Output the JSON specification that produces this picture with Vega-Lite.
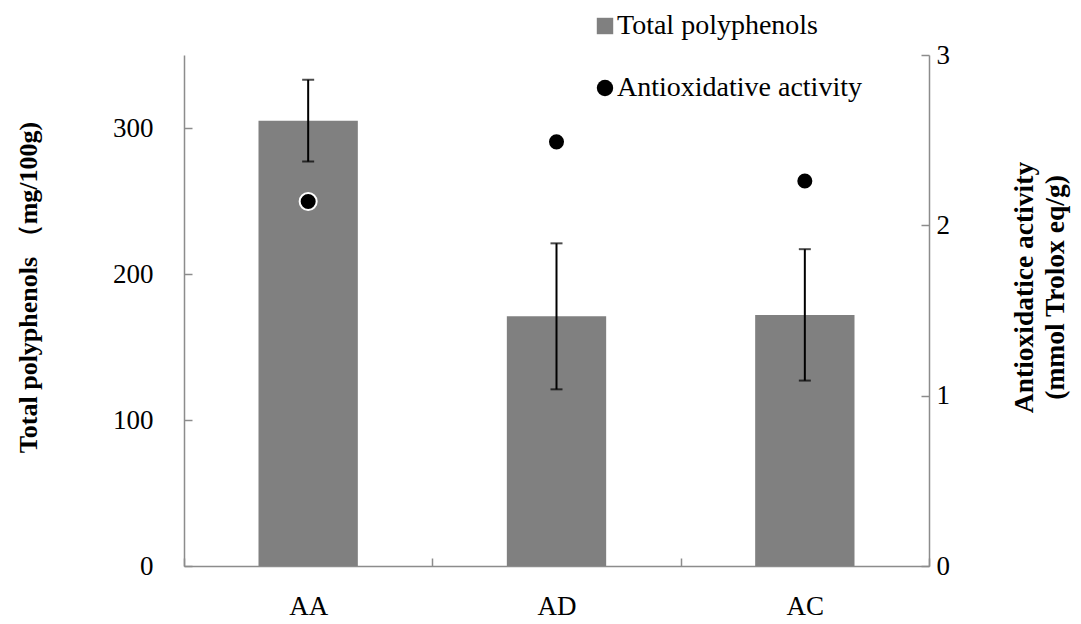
{
  "$schema": "https://vega.github.io/schema/vega-lite/v6.json",
  "width": 745,
  "height": 511,
  "autosize": "none",
  "padding": {"left": 184, "top": 55, "right": 152, "bottom": 58},
  "background": "white",
  "config": {
    "view": {"stroke": null},
    "font": "Liberation Serif",
    "axis": {
      "grid": false,
      "domainColor": "#8c8c8c",
      "domainWidth": 1.5,
      "tickColor": "#8c8c8c",
      "tickWidth": 1.5,
      "tickSize": -8,
      "labelFont": "Liberation Serif",
      "labelFontSize": 27,
      "labelColor": "black",
      "titleFont": "Liberation Serif",
      "titleFontSize": 26,
      "titleFontWeight": "bold",
      "titleColor": "black"
    },
    "legend": {
      "orient": "none",
      "legendX": 407,
      "legendY": -43,
      "title": null,
      "labelFont": "Liberation Serif",
      "labelFontSize": 28,
      "labelColor": "black",
      "labelLimit": 400,
      "symbolSize": 270,
      "symbolStrokeWidth": 0,
      "rowPadding": 34,
      "labelOffset": -2
    }
  },
  "data": {
    "values": [
      {"group": "AA", "polyphenols": 305, "lo": 277, "hi": 333, "activity": 2.14},
      {"group": "AD", "polyphenols": 171, "lo": 121, "hi": 221, "activity": 2.49},
      {"group": "AC", "polyphenols": 172, "lo": 127, "hi": 217, "activity": 2.26}
    ]
  },
  "encoding": {
    "x": {
      "field": "group",
      "type": "nominal",
      "sort": null,
      "scale": {"paddingInner": 0, "paddingOuter": 0},
      "axis": {"title": null, "labelAngle": 0, "tickBand": "extent", "labelPadding": 35}
    }
  },
  "layer": [
    {
      "encoding": {
        "y": {
          "type": "quantitative",
          "scale": {"domain": [0, 350], "nice": false},
          "axis": {
            "orient": "left",
            "values": [0, 100, 200, 300],
            "title": "Total polyphenols （mg/100g)",
            "labelPadding": 39,
            "titleX": -156,
            "titleY": 232,
            "titleBaseline": "middle",
            "titleAngle": 270
          }
        }
      },
      "layer": [
        {
          "mark": {"type": "bar", "width": {"band": 0.4}},
          "encoding": {
            "y": {"field": "polyphenols"},
            "color": {
              "datum": "Total polyphenols",
              "scale": {
                "domain": ["Total polyphenols", "Antioxidative activity"],
                "range": ["#808080", "#000000"]
              }
            }
          }
        },
        {
          "mark": {"type": "rule", "color": "black", "strokeWidth": 2},
          "encoding": {"y": {"field": "lo"}, "y2": {"field": "hi"}}
        },
        {
          "mark": {"type": "tick", "color": "black", "thickness": 2, "size": 12},
          "encoding": {"y": {"field": "lo"}}
        },
        {
          "mark": {"type": "tick", "color": "black", "thickness": 2, "size": 12},
          "encoding": {"y": {"field": "hi"}}
        }
      ]
    },
    {
      "mark": {"type": "point", "filled": true, "size": 290, "stroke": "white", "strokeWidth": 2, "opacity": 1},
      "encoding": {
        "y": {
          "field": "activity",
          "type": "quantitative",
          "scale": {"domain": [0, 3], "nice": false},
          "axis": {
            "orient": "right",
            "values": [0, 1, 2, 3],
            "title": ["Antioxidatice activity", "(mmol Trolox eq/g)"],
            "titleFontSize": 27.5,
            "titleAngle": 270,
            "titleLineHeight": 31,
            "titleX": 95,
            "titleY": 232,
            "titleBaseline": "middle",
            "labelPadding": 15
          }
        },
        "color": {"datum": "Antioxidative activity"},
        "shape": {
          "datum": "Antioxidative activity",
          "scale": {
            "domain": ["Total polyphenols", "Antioxidative activity"],
            "range": ["square", "circle"]
          }
        }
      }
    }
  ],
  "resolve": {"scale": {"y": "independent"}}
}
